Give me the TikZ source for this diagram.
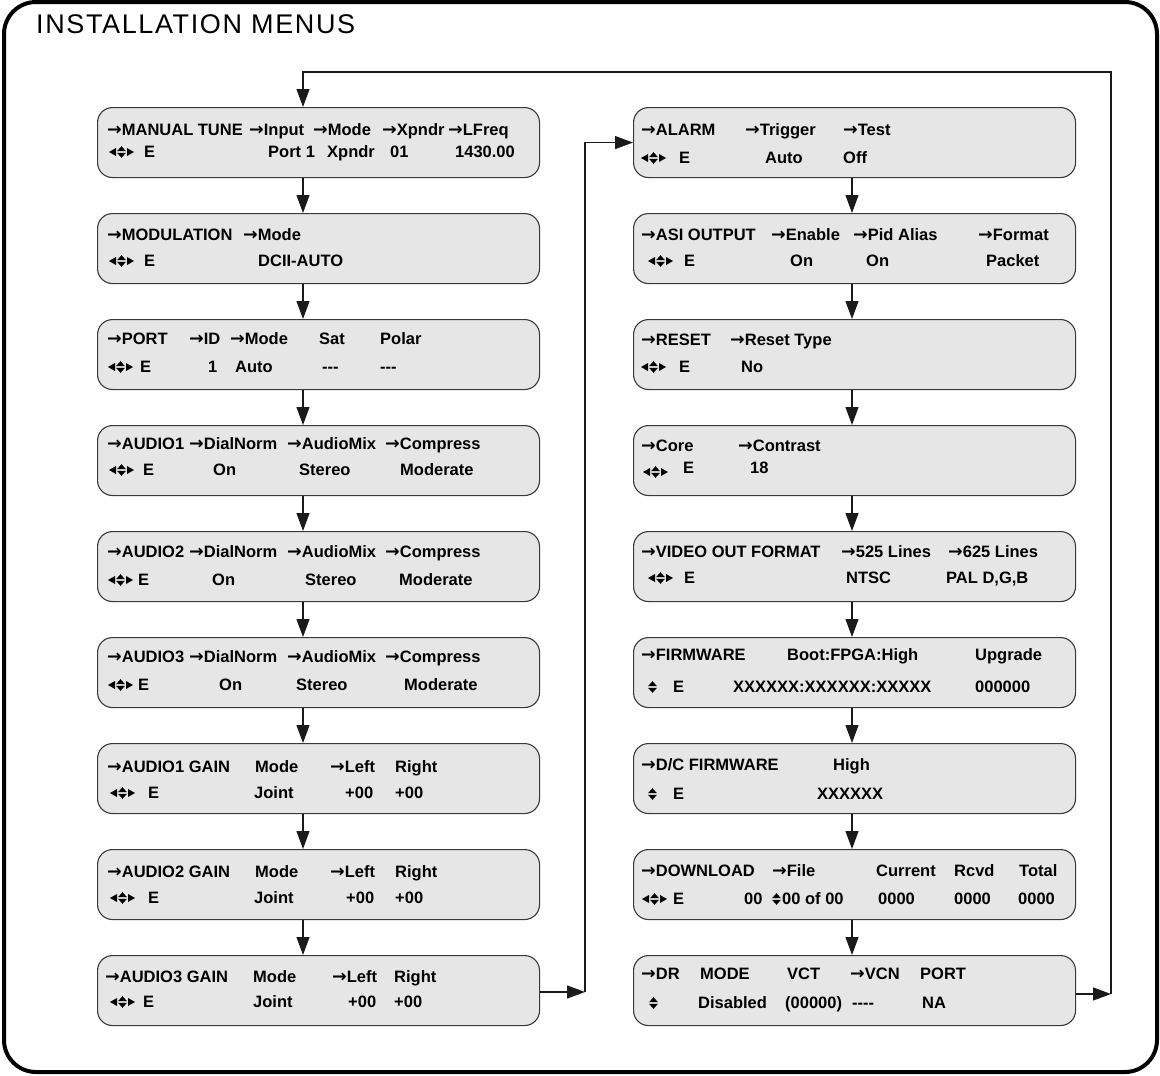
\documentclass[tikz,border=0pt]{standalone}
\usepackage{fontspec}
\setmainfont{Liberation Sans}
\newfontfamily\symfont{DejaVu Sans}
\usetikzlibrary{arrows.meta}
\definecolor{boxfill}{HTML}{E6E6E6}
\definecolor{boxline}{HTML}{3A3A3A}
\definecolor{wire}{HTML}{1A1A1A}
\newcommand\ra{{\symfont\fontsize{17.5}{19}\selectfont →}}
\newcommand\menurow[3]{\foreach \x/\t [count=\i] in {#3} \node[txt] (#1\i) at (\x,#2) {\t};}
\tikzset{
  menubox/.style={draw=boxline, fill=boxfill, line width=1.1pt, rounded corners=15pt, anchor=north west,
    minimum width=442pt, minimum height=70pt, inner sep=0pt},
  txt/.style={anchor=base west, inner sep=0pt, font=\bfseries\fontsize{16.5}{19}\selectfont},
  wire/.style={draw=wire, line width=1.2pt},
  arrow/.style={wire, -{Triangle[length=18pt, width=13pt]}},
  frame/.style={draw=black, line width=4pt, rounded corners=32pt},
  title/.style={anchor=base west, inner sep=0pt, font=\fontsize{27}{32}\selectfont\addfontfeatures{LetterSpace=6}},
  updown/.pic={\fill (0,-0.8) -- (9,-0.8) -- (4.5,-5.8) -- cycle; \fill (0,0.8) -- (9,0.8) -- (4.5,5.8) -- cycle;},
  lrud/.pic={\fill (0,0) -- (7,-4) -- (7,4) -- cycle; \pic at (8,0) {updown}; \fill (25,0) -- (18,-4) -- (18,4) -- cycle;},
}
\begin{document}
\begin{tikzpicture}[x=1pt, y=-1pt]
  \useasboundingbox (0,0) rectangle (1160,1076);
  \draw[frame] (4,2) rectangle (1157,1072);
  \node[title] (title) at (36,34) {INSTALLATION MENUS};
  % left column
  \node[menubox] (tune) at (97,107) {};
  \menurow{tune-a}{135}{107/{\ra MANUAL TUNE}, 249/{\ra Input}, 313/{\ra Mode}, 382/{\ra Xpndr}, 448/{\ra LFreq}}
  \menurow{tune-b}{157}{144/E, 268/{Port 1}, 327/Xpndr, 390/01, 455/1430.00}
  \pic (tune-s) at (109,152) {lrud};
  \node[menubox] (mod) at (97,213) {};
  \menurow{mod-a}{240}{107/{\ra MODULATION}, 243/{\ra Mode}}
  \menurow{mod-b}{266}{144/E, 258/DCII-AUTO}
  \pic (mod-s) at (109,261) {lrud};
  \node[menubox] (port) at (97,319) {};
  \menurow{port-a}{344}{107/{\ra PORT}, 189/{\ra ID}, 230/{\ra Mode}, 319/Sat, 380/Polar}
  \menurow{port-b}{372}{140/E, 208/1, 235/Auto, 322/{-{}-{}-}, 380/{-{}-{}-}}
  \pic (port-s) at (108,367) {lrud};
  \node[menubox] (a1) at (97,425) {};
  \menurow{a1-a}{449}{107/{\ra AUDIO1}, 189/{\ra DialNorm}, 287/{\ra AudioMix}, 385/{\ra Compress}}
  \menurow{a1-b}{475}{143/E, 213/On, 299/Stereo, 400/Moderate}
  \pic (a1-s) at (109,470) {lrud};
  \node[menubox] (a2) at (97,531) {};
  \menurow{a2-a}{557}{107/{\ra AUDIO2}, 189/{\ra DialNorm}, 287/{\ra AudioMix}, 385/{\ra Compress}}
  \menurow{a2-b}{585}{138/E, 212/On, 305/Stereo, 399/Moderate}
  \pic (a2-s) at (108,580) {lrud};
  \node[menubox] (a3) at (97,637) {};
  \menurow{a3-a}{662}{107/{\ra AUDIO3}, 189/{\ra DialNorm}, 287/{\ra AudioMix}, 385/{\ra Compress}}
  \menurow{a3-b}{690}{138/E, 219/On, 296/Stereo, 404/Moderate}
  \pic (a3-s) at (108,685) {lrud};
  \node[menubox] (g1) at (97,743) {};
  \menurow{g1-a}{772}{107/{\ra AUDIO1 GAIN}, 255/Mode, 330/{\ra Left}, 395/Right}
  \menurow{g1-b}{798}{148/E, 254/Joint, 345/+00, 395/+00}
  \pic (g1-s) at (110,793) {lrud};
  \node[menubox] (g2) at (97,849) {};
  \menurow{g2-a}{877}{107/{\ra AUDIO2 GAIN}, 255/Mode, 330/{\ra Left}, 395/Right}
  \menurow{g2-b}{903}{148/E, 254/Joint, 346/+00, 395/+00}
  \pic (g2-s) at (110,898) {lrud};
  \node[menubox] (g3) at (97,955) {};
  \menurow{g3-a}{982}{105/{\ra AUDIO3 GAIN}, 253/Mode, 332/{\ra Left}, 394/Right}
  \menurow{g3-b}{1007}{143/E, 253/Joint, 348/+00, 394/+00}
  \pic (g3-s) at (110,1002) {lrud};
  % right column
  \node[menubox] (alarm) at (633,107) {};
  \menurow{alarm-a}{135}{641/{\ra ALARM}, 745/{\ra Trigger}, 843/{\ra Test}}
  \menurow{alarm-b}{163}{679/E, 765/Auto, 843/Off}
  \pic (alarm-s) at (641,158) {lrud};
  \node[menubox] (asi) at (633,213) {};
  \menurow{asi-a}{240}{641/{\ra ASI OUTPUT}, 771/{\ra Enable}, 853/{\ra Pid Alias}, 978/{\ra Format}}
  \menurow{asi-b}{266}{684/E, 790/On, 866/On, 986/Packet}
  \pic (asi-s) at (648,261) {lrud};
  \node[menubox] (reset) at (633,319) {};
  \menurow{reset-a}{345}{641/{\ra RESET}, 730/{\ra Reset Type}}
  \menurow{reset-b}{372}{679/E, 741/No}
  \pic (reset-s) at (641,367) {lrud};
  \node[menubox] (core) at (633,425) {};
  \menurow{core-a}{451}{641/{\ra Core}, 738/{\ra Contrast}}
  \menurow{core-b}{473}{683/E, 750/18}
  \pic (core-s) at (643,472) {lrud};
  \node[menubox] (video) at (633,531) {};
  \menurow{video-a}{557}{641/{\ra VIDEO OUT FORMAT}, 841/{\ra 525 Lines}, 948/{\ra 625 Lines}}
  \menurow{video-b}{583}{684/E, 846/NTSC, 946/{PAL D,G,B}}
  \pic (video-s) at (648,578) {lrud};
  \node[menubox] (fw) at (633,637) {};
  \menurow{fw-a}{660}{641/{\ra FIRMWARE}, 787/Boot:FPGA:High, 975/Upgrade}
  \menurow{fw-b}{692}{673/E, 733/XXXXXX:XXXXXX:XXXXX, 975/000000}
  \pic (fw-s) at (648,687) {updown};
  \node[menubox] (dc) at (633,743) {};
  \menurow{dc-a}{770}{641/{\ra D/C FIRMWARE}, 833/High}
  \menurow{dc-b}{799}{673/E, 817/XXXXXX}
  \pic (dc-s) at (648,794) {updown};
  \node[menubox] (dl) at (633,849) {};
  \menurow{dl-a}{876}{641/{\ra DOWNLOAD}, 772/{\ra File}, 876/Current, 954/Rcvd, 1019/Total}
  \menurow{dl-b}{904}{673/E, 744/00, 782/{00 of 00}, 878/0000, 954/0000, 1018/0000}
  \pic (dl-s) at (642,899) {lrud};
  \pic (dl-f) at (772,899) {updown};
  \node[menubox] (dr) at (633,955) {};
  \menurow{dr-a}{979}{641/{\ra DR}, 700/MODE, 787/VCT, 850/{\ra VCN}, 920/PORT}
  \menurow{dr-b}{1008}{698/Disabled, 785/(00000), 852/{-{}-{}-{}-}, 922/NA}
  \pic (dr-s) at (649,1003) {updown};
  % connectors
  \coordinate (lx) at (303,0);
  \coordinate (rx) at (852,0);
  \foreach \a/\b in {tune/mod, mod/port, port/a1, a1/a2, a2/a3, a3/g1, g1/g2, g2/g3}
    \draw[arrow] (\a.south -| lx) -- (\b.north -| lx);
  \foreach \a/\b in {alarm/asi, asi/reset, reset/core, core/video, video/fw, fw/dc, dc/dl, dl/dr}
    \draw[arrow] (\a.south -| rx) -- (\b.north -| rx);
  \coordinate (jl) at (585,992);
  \coordinate (jr) at (1111,994);
  \coordinate (jt) at (1111,72);
  \draw[arrow] (g3.east |- jl) -- (jl);
  \draw[arrow] (jl) |- (alarm.west);
  \draw[arrow] (dr.east |- jr) -- (jr);
  \draw[arrow] (jr) -- (jt) -| (tune.north -| lx);
\end{tikzpicture}
\end{document}
